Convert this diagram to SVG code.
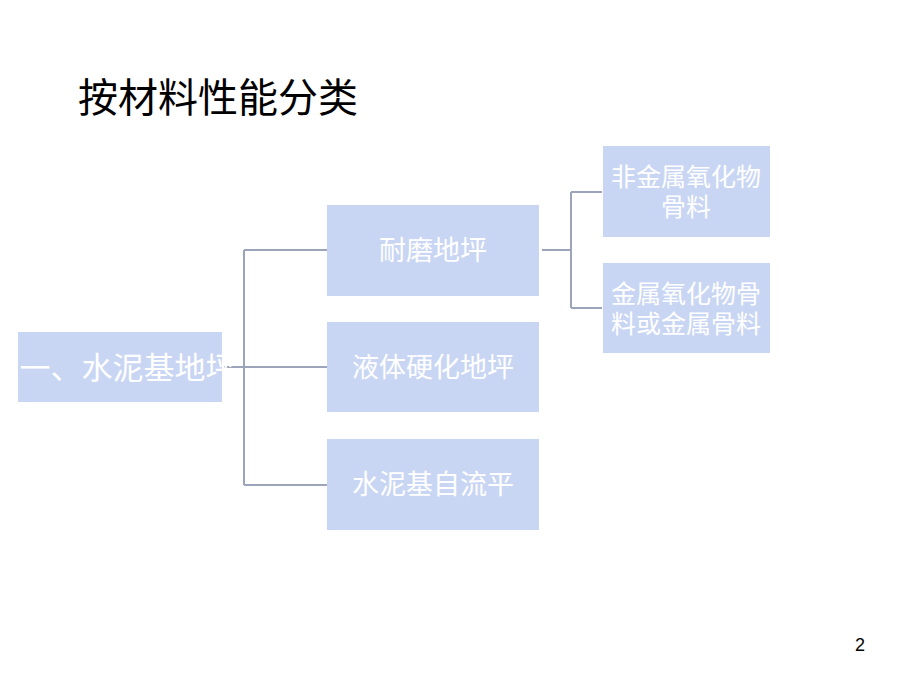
<svg xmlns="http://www.w3.org/2000/svg" width="920" height="690" viewBox="0 0 920 690">
<style>
.box{fill:#c9d6f3}
.t{font-family:"Liberation Sans","Noto Sans CJK SC",sans-serif;fill:#ffffff;text-anchor:middle}
.c{fill:none;stroke:#9ba4b9;stroke-width:2}
</style>
<rect width="920" height="690" fill="#ffffff"/>
<text x="78" y="112" font-family="'Liberation Sans','Noto Sans CJK SC',sans-serif" font-size="40" fill="#000">按材料性能分类</text>
<g id="connectors">
<path class="c" d="M224 367H244M244 250V485M244 250H327M244 367H327M244 485H327"/>
<path class="c" d="M542 250H571M571 192V308M571 192H602M571 308H602"/>
</g>
<g id="n0"><rect class="box" x="18" y="332" width="204" height="70"/><text class="t" x="128" y="379" font-size="31">一、水泥基地坪</text></g>
<g id="n1"><rect class="box" x="327" y="205" width="212" height="91"/><text class="t" x="433" y="260" font-size="27">耐磨地坪</text></g>
<g id="n2"><rect class="box" x="327" y="322" width="212" height="90"/><text class="t" x="433" y="377" font-size="27">液体硬化地坪</text></g>
<g id="n3"><rect class="box" x="327" y="439" width="212" height="91"/><text class="t" x="433" y="494" font-size="27">水泥基自流平</text></g>
<g id="n4"><rect class="box" x="603" y="146" width="167" height="91"/><text class="t" x="686" y="186" font-size="25">非金属氧化物</text><text class="t" x="686" y="216" font-size="25">骨料</text></g>
<g id="n5"><rect class="box" x="603" y="263" width="167" height="90"/><text class="t" x="686" y="303" font-size="25">金属氧化物骨</text><text class="t" x="686" y="333" font-size="25">料或金属骨料</text></g>
<text x="860" y="651" font-family="'Liberation Sans',sans-serif" font-size="18" fill="#000" text-anchor="middle">2</text>
</svg>
